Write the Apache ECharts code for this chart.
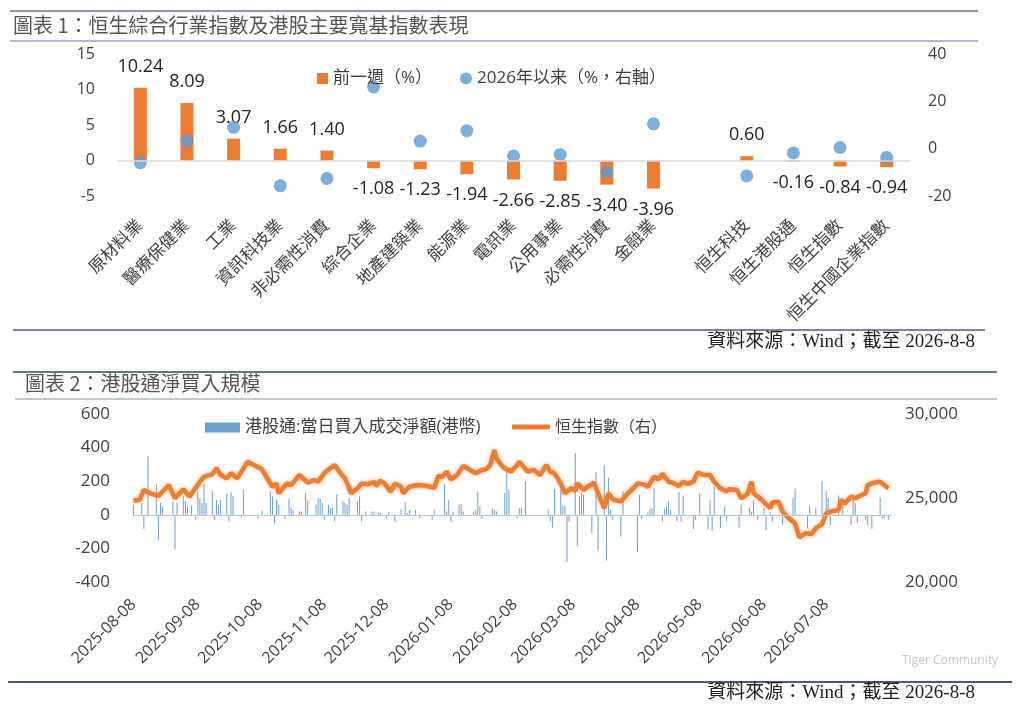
<!DOCTYPE html>
<html>
<head>
<meta charset="utf-8">
<title>恒生綜合行業指數及港股通淨買入</title>
<script src="https://cdn.jsdelivr.net/npm/echarts@6/dist/echarts.min.js"></script>
<style>
  html, body { margin: 0; padding: 0; background: #fff; }
  #main { width: 1024px; height: 719px; }
</style>
</head>
<body>
<div id="main"></div>
<script>
// 圖表1：行業及寬基指數
var sectorNames = ['原材料業', '醫療保健業', '工業', '資訊科技業', '非必需性消費', '綜合企業', '地產建築業',
  '能源業', '電訊業', '公用事業', '必需性消費', '金融業', '', '恒生科技', '恒生港股通', '恒生指數', '恒生中國企業指數'];
var weekChange = [10.24, 8.09, 3.07, 1.66, 1.40, -1.08, -1.23, -1.94, -2.66, -2.85, -3.40, -3.96, null, 0.60, -0.16, -0.84, -0.94];
var ytdChange = [-5.9, 3.2, 9.0, -15.7, -12.6, 26.1, 3.2, 7.6, -3.1, -2.5, -9.8, 10.5, null, -11.5, -1.8, 0.5, -3.7];

// 圖表2：港股通淨買入（億港元）
var flowDates = [
  '2025-08-08','2025-08-12','2025-08-13','2025-08-15','2025-08-19','2025-08-20','2025-08-21','2025-08-22','2025-08-27','2025-08-28',
  '2025-08-29','2025-09-01','2025-09-02','2025-09-03','2025-09-05','2025-09-07','2025-09-08','2025-09-09','2025-09-10','2025-09-11',
  '2025-09-12','2025-09-15','2025-09-16','2025-09-17','2025-09-18','2025-09-19','2025-09-22','2025-09-23','2025-09-24','2025-09-25',
  '2025-09-29','2025-09-30','2025-10-07','2025-10-09','2025-10-13','2025-10-14','2025-10-15','2025-10-16','2025-10-17','2025-10-20',
  '2025-10-22','2025-10-23','2025-10-24','2025-10-27','2025-10-28','2025-10-30','2025-10-31','2025-11-04','2025-11-05','2025-11-06',
  '2025-11-07','2025-11-08','2025-11-10','2025-11-11','2025-11-12','2025-11-13','2025-11-14','2025-11-17','2025-11-18','2025-11-19',
  '2025-11-20','2025-11-24','2025-11-25','2025-11-26','2025-11-28','2025-12-01','2025-12-02','2025-12-04','2025-12-05','2025-12-08',
  '2025-12-09','2025-12-12','2025-12-15','2025-12-17','2025-12-18','2025-12-19','2025-12-22','2025-12-24','2025-12-30','2025-12-31',
  '2026-01-05','2026-01-06','2026-01-07','2026-01-08','2026-01-09','2026-01-12','2026-01-13','2026-01-14','2026-01-19','2026-01-20',
  '2026-01-21','2026-01-22','2026-01-23','2026-01-28','2026-01-29','2026-01-30','2026-02-03','2026-02-04','2026-02-05','2026-02-09',
  '2026-02-10','2026-02-11','2026-02-13','2026-02-24','2026-02-25','2026-02-26','2026-02-27','2026-03-02','2026-03-03','2026-03-04',
  '2026-03-05','2026-03-06','2026-03-09','2026-03-10','2026-03-11','2026-03-12','2026-03-13','2026-03-17','2026-03-19','2026-03-20',
  '2026-03-23','2026-03-24','2026-03-25','2026-03-26','2026-03-27','2026-03-31','2026-04-01','2026-04-08','2026-04-09','2026-04-10',
  '2026-04-13','2026-04-14','2026-04-15','2026-04-16','2026-04-20','2026-04-21','2026-04-22','2026-04-23','2026-04-24','2026-04-27',
  '2026-04-28','2026-04-29','2026-04-30','2026-05-05','2026-05-06','2026-05-08','2026-05-12','2026-05-13','2026-05-14','2026-05-15',
  '2026-05-18','2026-05-20','2026-05-21','2026-05-27','2026-05-28','2026-06-01','2026-06-02','2026-06-03','2026-06-05','2026-06-08',
  '2026-06-09','2026-06-11','2026-06-12','2026-06-17','2026-06-22','2026-06-23','2026-06-25','2026-06-29','2026-06-30','2026-07-03',
  '2026-07-06','2026-07-07','2026-07-08','2026-07-09','2026-07-10','2026-07-14','2026-07-16','2026-07-20','2026-07-21','2026-07-22',
  '2026-07-23','2026-07-27','2026-07-28','2026-07-30','2026-08-03','2026-08-04','2026-08-05','2026-08-07'
];
var flowValues = [
  60, 70, -85, 352, 180, -150, 70, 50, 80, -205,
  70, 110, 80, 50, 55, -30, 140, 100, 70, 185,
  70, 140, -30, 90, 60, 90, 125, -40, 135, 110,
  -15, 150, -20, 25, 140, 110, -50, 90, 60, -25,
  95, 40, 25, 20, 20, 130, 85, 60, 100, 95,
  70, -30, 60, 40, 40, -40, 120, 80, 70, 60,
  100, 80, 110, -40, 20, 20, 20, 15, 10, -20,
  15, -40, 30, 75, 10, 30, 30, -20, -30, 30,
  185, 20, 90, -40, 20, 60, 65, 20, 20, 30,
  135, 50, -25, 40, 30, 20, 130, 260, 150, -20,
  40, 40, 200, 30, -40, -75, 150, 150, 60, 50,
  -280, -40, 368, -185, 110, 130, 120, -110, 255, -210,
  295, -273, 220, 30, -30, -130, 140, -220, 120, -25,
  15, 35, 40, 160, -40, 35, 50, 80, 30, -40,
  135, -40, 115, -85, -30, 130, -90, 90, -95, 170,
  -80, 50, -40, -75, 60, 40, 20, 90, -30, 40,
  -90, 15, -40, -60, 100, 155, -10, -80, 55, 40,
  200, -30, 140, 100, -60, 115, 90, -60, 115, 70,
  -50, -30, -60, -85, 105, -20, -20, -30
];
var hsiDates = [
  '2025-08-08','2025-08-11','2025-08-13','2025-08-16','2025-08-20','2025-08-25','2025-08-28','2025-09-01','2025-09-04','2025-09-09',
  '2025-09-11','2025-09-15','2025-09-17','2025-09-19','2025-09-22','2025-09-24','2025-09-27','2025-10-02','2025-10-05','2025-10-09',
  '2025-10-12','2025-10-14','2025-10-16','2025-10-17','2025-10-21','2025-10-23','2025-10-27','2025-10-31','2025-11-03','2025-11-05',
  '2025-11-08','2025-11-09','2025-11-13','2025-11-16','2025-11-18','2025-11-21','2025-11-24','2025-11-26','2025-11-29','2025-12-02',
  '2025-12-03','2025-12-05','2025-12-07','2025-12-10','2025-12-12','2025-12-15','2025-12-16','2025-12-19','2025-12-23','2025-12-27',
  '2025-12-31','2026-01-02','2026-01-04','2026-01-06','2026-01-08','2026-01-11','2026-01-14','2026-01-16','2026-01-20','2026-01-23',
  '2026-01-25','2026-01-27','2026-01-29','2026-01-30','2026-02-02','2026-02-04','2026-02-06','2026-02-09','2026-02-10','2026-02-14',
  '2026-02-17','2026-02-20','2026-02-23','2026-02-25','2026-02-27','2026-03-02','2026-03-04','2026-03-07','2026-03-09','2026-03-10',
  '2026-03-13','2026-03-15','2026-03-18','2026-03-21','2026-03-23','2026-03-25','2026-03-27','2026-03-31','2026-04-03','2026-04-06',
  '2026-04-08','2026-04-11','2026-04-13','2026-04-16','2026-04-18','2026-04-20','2026-04-23','2026-04-25','2026-04-28','2026-04-30',
  '2026-05-02','2026-05-05','2026-05-07','2026-05-10','2026-05-13','2026-05-15','2026-05-18','2026-05-21','2026-05-22','2026-05-26',
  '2026-05-28','2026-05-31','2026-06-02','2026-06-03','2026-06-07','2026-06-11','2026-06-12','2026-06-15','2026-06-17','2026-06-20',
  '2026-06-23','2026-06-25','2026-06-28','2026-07-01','2026-07-03','2026-07-06','2026-07-08','2026-07-10','2026-07-14','2026-07-15',
  '2026-07-17','2026-07-20','2026-07-22','2026-07-24','2026-07-27','2026-07-28','2026-07-31','2026-08-03','2026-08-05','2026-08-07'
];
var hsiValues = [
  24850, 24880, 25480, 25280, 25120, 25770, 24980, 25520, 25080, 25970,
  26270, 26410, 26770, 26370, 26170, 26470, 26170, 27160, 26960, 26710,
  26070, 25670, 25870, 25280, 25870, 25770, 26370, 25910, 26070, 25970,
  26470, 26600, 26960, 26430, 26170, 25280, 25580, 25870, 25810, 25970,
  25710, 26030, 25870, 25370, 25870, 25670, 25280, 25670, 25770, 25730,
  25610, 26310, 26270, 26570, 26110, 26370, 26900, 26770, 26470, 26670,
  26710, 26960, 27860, 27360, 26860, 26710, 26570, 26960, 27160, 26570,
  26670, 26370, 26960, 26570, 26470, 25870, 25280, 25580, 25430, 25870,
  25480, 25670, 25910, 24980, 24390, 25280, 24920, 24780, 25240, 25580,
  25870, 25810, 25670, 26270, 26110, 26430, 25970, 25910, 25710, 25970,
  25830, 25970, 26510, 26370, 26370, 25970, 25580, 25380, 25520, 25480,
  24980, 25240, 25970, 25280, 24880, 24390, 24720, 24780, 24180, 23790,
  23490, 22660, 22900, 22860, 23200, 23450, 24090, 24180, 24290, 24880,
  24680, 25080, 24980, 25120, 25280, 25770, 25910, 25970, 25770, 25580
];
var dateTicks = ['2025-08-08','2025-09-08','2025-10-08','2025-11-08','2025-12-08','2026-01-08',
  '2026-02-08','2026-03-08','2026-04-08','2026-05-08','2026-06-08','2026-07-08'];
var dateStart = '2025-08-08';
var dateEnd = '2026-08-08';

var SANS = '"Open Sans", "Noto Sans CJK TC", sans-serif';
var CJK = '"Noto Sans CJK TC", "Noto Sans", sans-serif';
var SERIF = '"Liberation Serif", "Noto Sans CJK TC", serif';
var ORANGE = '#ed7d31';
var BLUE = '#5b9bd5';
var TEXT = '#404040';

function ts(s) { return +echarts.time.parse(s); }

var weekData = weekChange.map(function (v) {
  if (v == null) return null;
  return { value: v, label: { position: v < 0 ? 'bottom' : 'top' } };
});
var flowData = flowDates.map(function (d, i) { return [d, flowValues[i]]; });
var hsiData = hsiDates.map(function (d, i) { return [d, hsiValues[i]]; });

var chart = echarts.init(document.getElementById('main'));
chart.setOption({
  backgroundColor: '#fff',
  animation: false,
  textStyle: { fontFamily: SANS },
  graphic: [
    { type: 'line', shape: { x1: 10, y1: 11, x2: 978, y2: 11 }, style: { stroke: '#6a6f93', lineWidth: 1.5 } },
    { type: 'text', left: 13, top: 15, style: { text: '圖表 1：恒生綜合行業指數及港股主要寬基指數表現', fill: '#555', font: '20px ' + CJK } },
    { type: 'line', shape: { x1: 10, y1: 41, x2: 978, y2: 41 }, style: { stroke: '#9aa0b8', lineWidth: 1.5 } },
    { type: 'line', shape: { x1: 13, y1: 330, x2: 985, y2: 330 }, style: { stroke: '#7d84a6', lineWidth: 2 } },
    { type: 'text', right: 49, top: 333, style: { text: '資料來源：Wind；截至 2026-8-8', fill: '#222', font: '19px ' + SERIF } },
    { type: 'line', shape: { x1: 13, y1: 372, x2: 997, y2: 372 }, style: { stroke: '#2e4a5a', lineWidth: 1.5 } },
    { type: 'text', left: 25, top: 373, style: { text: '圖表 2：港股通淨買入規模', fill: '#555', font: '20px ' + CJK } },
    { type: 'line', shape: { x1: 15, y1: 399, x2: 997, y2: 399 }, style: { stroke: '#a9bac4', lineWidth: 1.5 } },
    { type: 'line', shape: { x1: 8, y1: 682, x2: 1012, y2: 682 }, style: { stroke: '#4b5784', lineWidth: 2 } },
    { type: 'text', right: 49, top: 684, style: { text: '資料來源：Wind；截至 2026-8-8', fill: '#222', font: '19px ' + SERIF } },
    { type: 'text', left: 902, top: 655, style: { text: 'Tiger Community', fill: '#c8c8c8', font: '12px ' + SANS } }
  ],
  legend: [
    {
      left: 312, top: 65, itemWidth: 11, itemHeight: 11, itemGap: 4,
      textStyle: { color: TEXT, fontSize: 17 },
      data: [{ name: '前一週（%）', icon: 'rect' }]
    },
    {
      left: 455, top: 65, itemWidth: 12, itemHeight: 12, itemGap: 4,
      textStyle: { color: TEXT, fontSize: 17 },
      data: [{ name: '2026年以来（%，右軸）', icon: 'circle' }]
    },
    {
      left: 200, top: 414, itemWidth: 35, itemHeight: 10, itemGap: 5,
      textStyle: { color: TEXT, fontSize: 17 },
      data: [{ name: '港股通:當日買入成交淨額(港幣)', icon: 'rect' }]
    },
    {
      left: 507, top: 414, itemWidth: 38, itemHeight: 5, itemGap: 5,
      textStyle: { color: TEXT, fontSize: 16 },
      data: [{ name: '恒生指數（右）', icon: 'roundRect' }]
    }
  ],
  grid: [
    { left: 117, width: 793, top: 54, height: 142 },
    { left: 133, width: 758, top: 414, height: 168 }
  ],
  xAxis: [
    {
      type: 'category', gridIndex: 0, data: sectorNames,
      axisLine: { show: false }, axisTick: { show: false },
      axisLabel: { interval: 0, rotate: 45, margin: 27, color: TEXT, fontSize: 17 }
    },
    {
      type: 'time', gridIndex: 1, min: ts(dateStart), max: ts(dateEnd),
      axisLine: { show: false }, axisTick: { show: false }, splitLine: { show: false },
      axisLabel: {
        customValues: dateTicks.map(ts), rotate: 45, margin: 20,
        color: TEXT, fontSize: 16, formatter: '{yyyy}-{MM}-{dd}'
      }
    }
  ],
  yAxis: [
    {
      type: 'value', gridIndex: 0, min: -5, max: 15, interval: 5,
      axisLine: { show: false }, axisTick: { show: false }, splitLine: { show: false },
      axisLabel: { color: TEXT, fontSize: 16, margin: 22 }
    },
    {
      type: 'value', gridIndex: 0, position: 'right', min: -20, max: 40, interval: 20,
      axisLine: { show: false }, axisTick: { show: false }, splitLine: { show: false },
      axisLabel: { color: TEXT, fontSize: 16, margin: 18 }
    },
    {
      type: 'value', gridIndex: 1, min: -400, max: 600, interval: 200,
      axisLine: { show: false }, axisTick: { show: false }, splitLine: { show: false },
      axisLabel: { color: TEXT, fontSize: 17, margin: 23 }
    },
    {
      type: 'value', gridIndex: 1, position: 'right', min: 20000, max: 30000, interval: 5000,
      axisLine: { show: false }, axisTick: { show: false }, splitLine: { show: false },
      axisLabel: {
        color: TEXT, fontSize: 17, margin: 14,
        formatter: function (v) { return v.toLocaleString('en-US'); }
      }
    }
  ],
  series: [
    {
      name: '前一週（%）', type: 'bar', xAxisIndex: 0, yAxisIndex: 0,
      barWidth: 13, itemStyle: { color: ORANGE }, data: weekData,
      label: {
        show: true, distance: 12, color: '#222', fontSize: 18,
        formatter: function (p) { return p.value.toFixed(2); }
      },
      markLine: {
        silent: true, symbol: 'none', label: { show: false },
        lineStyle: { color: '#d9d9d9', type: 'solid', width: 1.5 },
        data: [{ yAxis: 0 }]
      },
      z: 2
    },
    {
      name: '2026年以来（%，右軸）', type: 'scatter', xAxisIndex: 0, yAxisIndex: 1,
      symbolSize: 13, itemStyle: { color: BLUE }, data: ytdChange, z: 3
    },
    {
      name: '港股通:當日買入成交淨額(港幣)', type: 'bar', xAxisIndex: 1, yAxisIndex: 2,
      barWidth: 1, itemStyle: { color: '#6f9fcf' }, data: flowData,
      markLine: {
        silent: true, symbol: 'none', label: { show: false },
        lineStyle: { color: '#b8c8d8', type: 'solid', width: 1 },
        data: [{ yAxis: 0 }]
      },
      z: 2
    },
    {
      name: '恒生指數（右）', type: 'line', xAxisIndex: 1, yAxisIndex: 3,
      symbol: 'none', data: hsiData,
      itemStyle: { color: ORANGE },
      lineStyle: { color: ORANGE, width: 4.5, shadowColor: 'rgba(237,125,49,0.55)', shadowBlur: 4 },
      z: 4
    }
  ]
});
</script>
</body>
</html>
